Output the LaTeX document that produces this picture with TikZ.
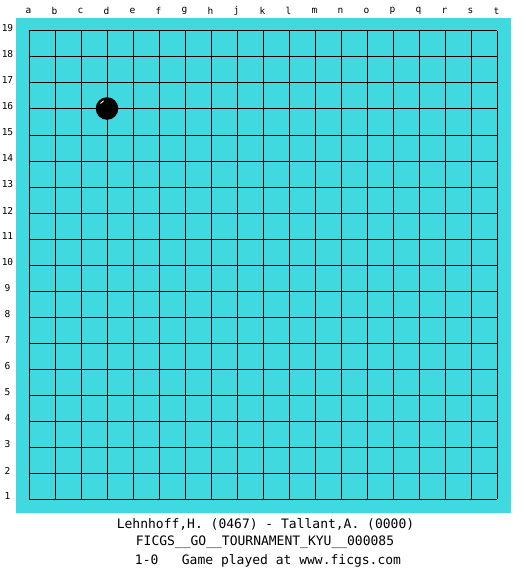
\documentclass[tikz,border=0pt]{standalone}
\usepackage{fontspec}
\setmonofont{DejaVu Sans Mono}
\definecolor{board}{RGB}{64,217,224}
\begin{document}
\begin{tikzpicture}[x=1pt,y=-1pt,
  coordlabel/.style={font=\ttfamily\fontsize{9.5}{10}\selectfont, inner sep=0pt, anchor=center},
  infotext/.style={font=\ttfamily\fontsize{13}{14}\selectfont, inner sep=0pt, anchor=center},
  gridline/.style={black, line width=1pt}]
\useasboundingbox (0,0) rectangle (525,575);
\fill[white] (0,0) rectangle (525,575);
\fill[board] (16,18) rectangle (511,513);
% grid
\foreach \i in {0,...,18} {
  \draw[gridline] (29+26*\i,31) -- (29+26*\i,499);
  \draw[gridline] (29,31+26*\i) -- (497,31+26*\i);
}
% column labels
\foreach \l [count=\i from 0] in {a,b,c,d,e,f,g,h,j,k,l,m,n,o,p,q,r,s,t} {
  \node[coordlabel] (col\l) at (28.5+26*\i,11) {\l};
}
% row labels
\foreach \i in {1,...,19} {
  \node[coordlabel] (row\i) at (7.5,499-26*\i+26-2.5) {\i};
}
% stone at d16
\fill[black] (107,108.5) circle (11.3);
\draw[white, line width=0.9pt] (100.5,103.5) arc (210:245:7);
% info text
\node[infotext] (players) at (265.5,524) {Lehnhoff,H. (0467) - Tallant,A. (0000)};
\node[infotext] (event) at (265,542.5) {FICGS\_\_GO\_\_TOURNAMENT\_KYU\_\_000085};
\node[infotext] (result) at (268,561) {1-0\ \ \ Game played at www.ficgs.com};
\end{tikzpicture}
\end{document}
